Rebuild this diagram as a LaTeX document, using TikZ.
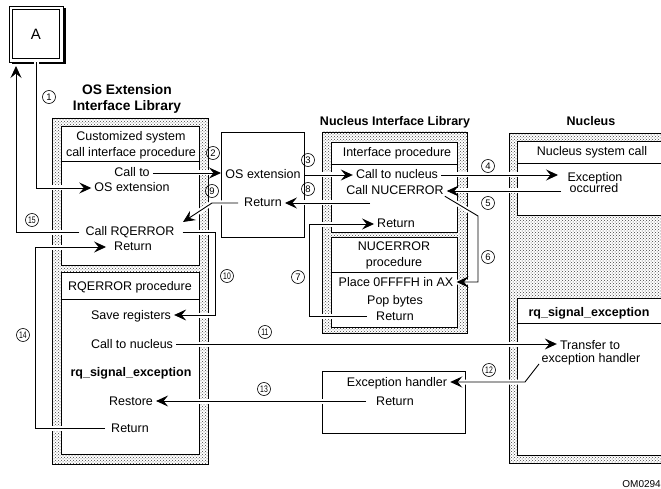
\documentclass[tikz,border=0pt]{standalone}
\usepackage{fontspec}
\usepackage{graphicx}
\setmainfont{Liberation Sans}
\usetikzlibrary{arrows.meta,calc,patterns}
\pgfdeclarelayer{bg}
\pgfdeclarelayer{fg}
\pgfsetlayers{bg,main,fg}
\tikzset{
  lbl/.style={inner xsep=3pt, inner ysep=0pt, text height=9pt, text depth=1pt, font=\fontsize{12.5}{15}\selectfont},
  ttl/.style={lbl, font=\fontsize{12.5}{15}\selectfont\bfseries},
  bigttl/.style={lbl, font=\fontsize{13.8}{16}\selectfont\bfseries},
  stip/.style={preaction={fill=white}, pattern=crosshatch dots, pattern color=black!75, draw=black, line width=0.6pt},
  panel/.style={fill=white, draw=black, line width=0.6pt},
  num/.style={circle, draw, line width=0.6pt, minimum size=13pt, inner sep=0pt, font=\fontsize{9.5}{9.5}\selectfont},
  conn/.style={line width=0.9pt, preaction={draw=white, line width=5pt, -}},
  arr/.style={conn, -{Stealth[length=12pt, width=11pt, inset=4.5pt]}},
}
\newcommand{\twod}[1]{\scalebox{0.72}[1]{#1}}
\begin{document}
\begin{tikzpicture}[x=1pt,y=-1pt]
\useasboundingbox (0,0) rectangle (661,489);
\clip (0,0) rectangle (661,489);
\begin{pgfonlayer}{bg}
  \fill[white] (0,0) rectangle (661,489);
  % box A
  \fill[black] (11.5,8.5) rectangle (65.5,64.5);
  \node[draw, fill=white, line width=0.7pt, minimum width=54pt, minimum height=56pt, inner sep=0pt] (Abox) at (36,34) {};
  \draw[line width=0.7pt] ($(Abox.north west)+(4,4)$) rectangle ($(Abox.south east)+(-4,-4)$);
  % OS Extension Interface Library
  \draw[stip] (52,118) rectangle (208,464);
  \draw[panel] (61,126) rectangle (199,265);
  \draw[panel] (61,126) rectangle (199,161);
  \draw[panel] (61,272) rectangle (199,454);
  \draw[panel] (61,272) rectangle (199,299);
  % OS extension box
  \node[panel, minimum width=83pt, minimum height=105pt, anchor=north west, inner sep=0pt] (osbox) at (221,132) {};
  % Nucleus Interface Library
  \draw[stip] (322,132) rectangle (467,333);
  \draw[panel] (331,142) rectangle (457,232);
  \draw[panel] (331,142) rectangle (457,164);
  \draw[panel] (331,237) rectangle (457,327);
  \draw[panel] (331,237) rectangle (457,272);
  % Nucleus
  \draw[stip] (509,133) rectangle (672,463);
  \draw[panel] (517,141) rectangle (672,215);
  \draw[panel] (517,141) rectangle (672,163);
  \draw[panel] (517,298) rectangle (672,455);
  \draw[panel] (517,298) rectangle (672,323);
  % Exception handler box
  \node[panel, minimum width=143pt, minimum height=62pt, anchor=north west, inner sep=0pt] (exbox) at (322,371) {};
\end{pgfonlayer}

\begin{pgfonlayer}{fg}
  \node[font=\fontsize{15}{15}\selectfont, inner sep=0pt] (Alab) at (36,34) {A};
  \node[bigttl] (t1) at (127,91) {OS Extension};
  \node[bigttl] (t2) at (127,107) {Interface Library};
  \node[lbl] (cust1) at (131,137) {Customized system};
  \node[lbl] (cust2) at (131,153) {call interface procedure};
  \node[lbl] (callto) at (132,173) {Call to};
  \node[lbl] (osx1) at (132,188) {OS extension};
  \node[lbl] (callrq) at (130,232) {Call RQERROR};
  \node[lbl] (ret1) at (133,247) {Return};
  \node[lbl] (rqproc) at (130,286) {RQERROR procedure};
  \node[lbl] (savereg) at (131,315) {Save registers};
  \node[lbl] (cnuc1) at (132,344) {Call to nucleus};
  \node[ttl] (rqsig1) at (131,372) {rq\_signal\_exception};
  \node[lbl] (restore) at (131,401) {Restore};
  \node[lbl] (ret2) at (130,428) {Return};

  \node[lbl] (osx2) at (263,175) {OS extension};
  \node[lbl] (osret) at (263,203) {Return};

  \node[ttl] (niltitle) at (395,122) {Nucleus Interface Library};
  \node[lbl] (ifproc) at (397,153) {Interface procedure};
  \node[lbl] (cnuc2) at (397,175) {Call to nucleus};
  \node[lbl] (cnerr) at (395,191) {Call NUCERROR};
  \node[lbl] (ret3) at (396,224) {Return};
  \node[lbl] (nucerr1) at (394,247) {NUCERROR};
  \node[lbl] (nucerr2) at (394,262) {procedure};
  \node[lbl] (placeax) at (396,282) {Place 0FFFFH in AX};
  \node[lbl] (popb) at (395,300) {Pop bytes};
  \node[lbl] (ret4) at (395,316) {Return};

  \node[ttl] (nuctitle) at (591,122) {Nucleus};
  \node[lbl] (nsc) at (592,152) {Nucleus system call};
  \node[lbl] (exc1) at (595,178) {Exception};
  \node[lbl] (exc2) at (594,189) {occurred};
  \node[ttl] (rqsig2) at (589,312) {rq\_signal\_exception};
  \node[lbl] (transfer) at (590,345) {Transfer to};
  \node[lbl] (exh) at (591,358) {exception handler};

  \node[lbl] (exh2) at (397,382) {Exception handler};
  \node[lbl] (ret5) at (395,401) {Return};

  \node[font=\fontsize{10}{10}\selectfont, anchor=east, inner sep=0pt] (om) at (661,484) {OM0294};

  \node[num] (n1) at (49,97) {1};
  \node[num] (n2) at (213,153) {2};
  \node[num] (n3) at (308,160) {3};
  \node[num] (n4) at (488,166) {4};
  \node[num] (n5) at (488,203) {5};
  \node[num] (n6) at (488,257) {6};
  \node[num] (n7) at (298,277) {7};
  \node[num] (n8) at (308,189) {8};
  \node[num] (n9) at (212,191) {9};
  \node[num] (n10) at (227,276) {\twod{10}};
  \node[num] (n11) at (265,332) {\twod{11}};
  \node[num] (n12) at (489,370) {\twod{12}};
  \node[num] (n13) at (264,389) {\twod{13}};
  \node[num] (n14) at (23,335) {\twod{14}};
  \node[num] (n15) at (32,220) {\twod{15}};
\end{pgfonlayer}

% named coordinates
\coordinate (a15) at (16,66);
\coordinate (p9a) at (212,0);
\coordinate (p9b) at (183,222);
\coordinate (p10) at (215,0);
\coordinate (p14) at (35,0);
\coordinate (p4) at (558,0);
\coordinate (p5) at (561,0);
\coordinate (p6a) at (478,216);
\coordinate (p7) at (309,0);
\coordinate (p8) at (370,0);
\coordinate (p12a) at (539,364);
\coordinate (p12b) at (525,382);

% connectors
\draw[arr] (Abox.south) -- (Abox.south |- osx1.west) -- (osx1.west);
\draw[arr] ([xshift=-3pt]callrq.west) -- (a15 |- callrq.west) -- (a15);
\draw[arr] (callto.east) -- (osbox.west |- callto.east);
\draw[arr] (osbox.east |- cnuc2.west) -- (cnuc2.west);
\draw[arr] (p8 |- osret.east) -- (osret.east);
\draw[arr] ([xshift=-3pt]osret.west) -- (p9a |- osret.west) -- (p9b);
\draw[arr] ([xshift=5pt]callrq.east) -- (p10 |- callrq.east) -- (p10 |- savereg.east) -- (savereg.east);
\draw[arr] ([xshift=-3pt]ret2.west) -- (p14 |- ret2.west) -- (p14 |- ret1.west) -- ([xshift=-5pt]ret1.west);
\draw[arr] (cnuc2.east) -- (p4 |- cnuc2.east);
\draw[arr] (p5 |- cnerr.east) -- (cnerr.east);
\draw[arr] ([xshift=-2pt]cnerr.south east) -- (p6a) -- (p6a |- placeax.east) -- (placeax.east);
\draw[arr] ([xshift=-6pt]ret4.west) -- (p7 |- ret4.west) -- (p7 |- ret3.west) -- (ret3.west);
\draw[arr] (cnuc1.east) -- (cnuc1.east -| transfer.west);
\draw[arr] (p12a) -- (p12b) -- (p12b -| exh2.east);
\draw[arr] ([xshift=-7pt]ret5.west) -- (ret5.west -| restore.east);
\end{tikzpicture}
\end{document}
